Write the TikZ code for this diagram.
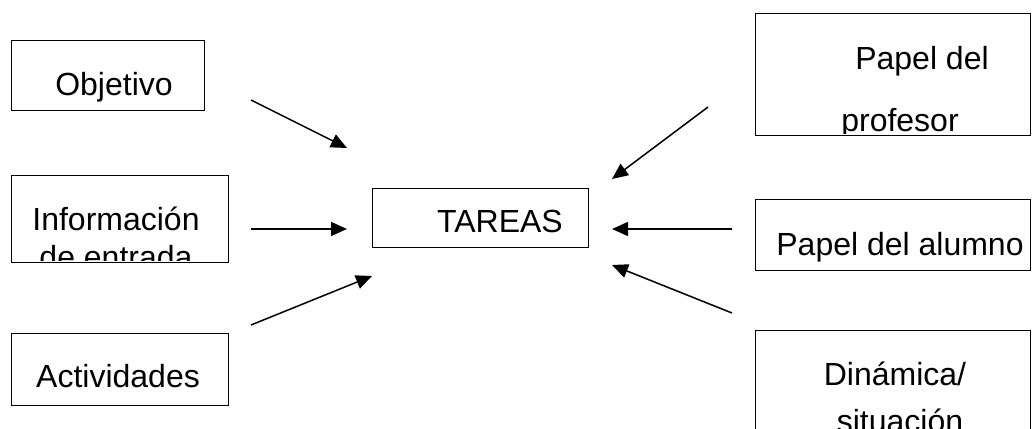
\documentclass[tikz,border=0pt]{standalone}
\usepackage{fontspec}
\setmainfont{Liberation Sans}
\usetikzlibrary{arrows.meta}
\begin{document}
\begin{tikzpicture}[x=1pt,y=-1pt]
\tikzset{
  box/.style={draw,line width=1.4pt,inner sep=0pt,anchor=north west},
  lbl/.style={anchor=base,inner sep=0pt,font=\fontsize{32}{38}\selectfont},
  arr/.style={line width=1.5pt,-{Triangle[length=16pt,width=14pt]}}
}
\useasboundingbox (0,0) rectangle (1032,428);
% boxes
\node[box,minimum width=193pt,minimum height=70pt] (obj) at (11,40) {};
\node[box,minimum width=217pt,minimum height=87pt] (inf) at (11,175) {};
\node[box,minimum width=217pt,minimum height=72pt] (act) at (11,333) {};
\node[box,minimum width=216pt,minimum height=59pt] (tar) at (372,188) {};
\node[box,minimum width=275pt,minimum height=122pt] (pro) at (755,13) {};
\node[box,minimum width=275pt,minimum height=71pt] (alu) at (755,199) {};
\node[box,minimum width=275pt,minimum height=130pt] (din) at (755,330) {};
% labels
\node[lbl] (tobj) at (114,95) {Objetivo};
\begin{scope}
  \clip ([yshift=3pt]inf.south west) rectangle (inf.north east);
  \node[lbl] (tinf1) at (116,230) {Información};
  \node[lbl] (tinf2) at (116,268) {de entrada};
\end{scope}
\node[lbl] (tact) at (118,387) {Actividades};
\node[lbl] (ttar) at (500,232) {TAREAS};
\begin{scope}
  \clip ([yshift=3pt]pro.south west) rectangle (pro.north east);
  \node[lbl] (tpro1) at (922,70) {Papel del};
  \node[lbl] (tpro2) at (900,131) {profesor};
\end{scope}
\node[lbl] (talu) at (900,255) {Papel del alumno};
\node[lbl] (tdin1) at (895,385) {Dinámica/};
\node[lbl] (tdin2) at (900,432) {situación};
% arrow endpoints
\coordinate (a1s) at (251,100); \coordinate (a1e) at (347,148);
\coordinate (a2s) at (251,229); \coordinate (a2e) at (347,229);
\coordinate (a3s) at (251,325); \coordinate (a3e) at (372,276);
\coordinate (a4s) at (708,107); \coordinate (a4e) at (612,179);
\coordinate (a5s) at (732,229); \coordinate (a5e) at (612,229);
\coordinate (a6s) at (732,313); \coordinate (a6e) at (612,265);
\draw[arr] (a1s) -- (a1e);
\draw[arr] (a2s) -- (a2e);
\draw[arr] (a3s) -- (a3e);
\draw[arr] (a4s) -- (a4e);
\draw[arr] (a5s) -- (a5e);
\draw[arr] (a6s) -- (a6e);
\end{tikzpicture}
\end{document}
